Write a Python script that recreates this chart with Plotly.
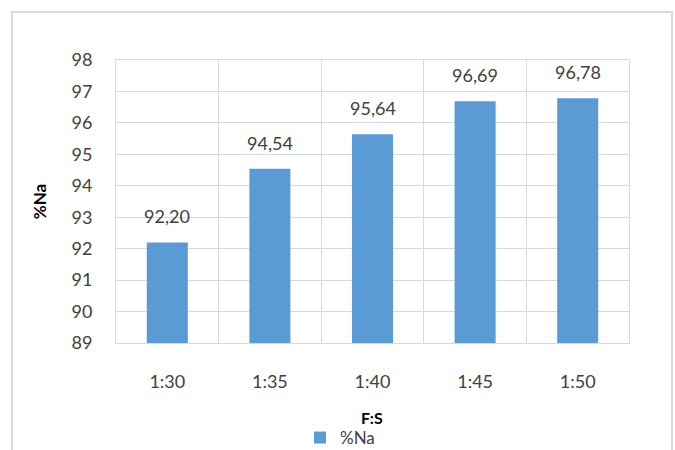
import plotly.graph_objects as go

categories = ["1:30", "1:35", "1:40", "1:45", "1:50"]
values = [92.20, 94.54, 95.64, 96.69, 96.78]
series_name = "%Na"
y_title = "%Na"
x_title = "F:S"

labels = [f"{v:.2f}".replace(".", ",") for v in values]
xpos = list(range(len(categories)))

FONT = "Lato, Open Sans, sans-serif"
GRID = "#D9D9D9"
TXT = "#404040"

fig = go.Figure()
fig.add_trace(go.Bar(
    x=xpos, y=values, name=series_name,
    marker=dict(color="#5B9BD5", line=dict(width=0)),
    width=0.4,
))

W, H = 675, 450
L, R, T, B = 116, 46, 60, 107
pw = W - L - R
ph = H - T - B

def px2x(px):
    return (px - L) / pw

def py2y(py):
    return (H - B - py) / ph

annotations = [dict(x=xi, y=v, xref="x", yref="y", text=t, showarrow=False,
                    yanchor="bottom", yshift=13,
                    font=dict(size=18, color=TXT, family=FONT))
               for xi, v, t in zip(xpos, values, labels)]
annotations.append(dict(text="<b>" + x_title + "</b>", xref="paper", yref="paper",
                        x=px2x(372), y=py2y(417), xanchor="center", yanchor="middle",
                        showarrow=False, font=dict(size=16, color="#000000")))

fig.update_layout(
    width=W, height=H,
    margin=dict(l=L, r=R, t=T, b=B, autoexpand=False),
    paper_bgcolor="white", plot_bgcolor="white",
    font=dict(family=FONT, size=18, color=TXT),
    showlegend=True,
    legend=dict(orientation="h", x=px2x(300), y=py2y(420), xanchor="left", yanchor="top",
                font=dict(size=17, color=TXT), bgcolor="rgba(0,0,0,0)",
                itemwidth=30),
    xaxis=dict(
        range=[-0.5, len(categories) - 0.5],
        tickmode="array", tickvals=xpos, ticktext=categories,
        showgrid=False, zeroline=False, ticks="",
        showline=True, linecolor=GRID, linewidth=1, mirror=True,
        tickfont=dict(size=18, color=TXT),
        ticklabelstandoff=22,
        minor=dict(tick0=0.5, dtick=1, showgrid=True, gridcolor=GRID, gridwidth=1, ticks=""),
    ),
    yaxis=dict(
        range=[89, 98], tickmode="linear", tick0=89, dtick=1,
        showgrid=True, gridcolor=GRID, gridwidth=1, zeroline=False,
        showline=True, linecolor=GRID, linewidth=1, mirror=True,
        tickfont=dict(size=18, color=TXT), ticks="",
        ticklabelstandoff=19,
        title=dict(text="<b>" + y_title + "</b>", font=dict(size=17, color="#000000"), standoff=20),
    ),
    shapes=[dict(type="rect", xref="paper", yref="paper",
                 x0=px2x(12), x1=px2x(672), y0=py2y(470), y1=py2y(12),
                 line=dict(color="#D9D9D9", width=2), fillcolor="rgba(0,0,0,0)", layer="below")],
    annotations=annotations,
)

fig.write_html("out.html")
